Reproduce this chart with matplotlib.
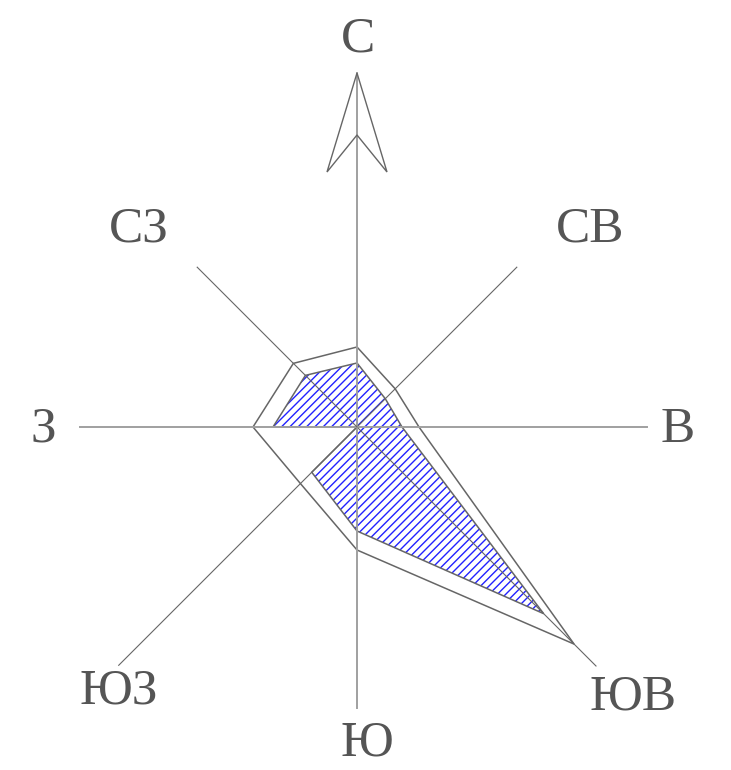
import numpy as np
import matplotlib.pyplot as plt
from matplotlib.patches import Polygon

# румбы (по часовой от севера)
directions = ['С', 'СВ', 'В', 'ЮВ', 'Ю', 'ЮЗ', 'З', 'СЗ']
# повторяемость ветра, внешний контур и внутренний (заштрихованный)
outer_vals = [80, 54, 62, 307, 123, 80, 104, 90]
inner_vals = [64, 40, 45, 264, 104, 64, 84, 73]

# длины осей и позиции подписей (оформление)
axis_len = [354, 226, 290, 338, 281, 337, 277, 226]
label_pos = [(1, 376), (233, 185), (321, -15), (276, -282),
             (10, -328), (-238, -276), (-314, -15), (-218, 185)]

ang = np.deg2rad(90 - 45 * np.arange(8))
ux, uy = np.cos(ang), np.sin(ang)

fig = plt.figure(figsize=(7.31, 7.70), dpi=100)
ax = fig.add_axes([0, 0, 1, 1])
ax.set_xlim(-357, 374)
ax.set_ylim(-343, 427)
ax.set_aspect('equal')
ax.axis('off')

# внешний контур
ov = np.array(outer_vals)
ax.add_patch(Polygon(np.column_stack([ov * ux, ov * uy]), closed=True,
                     facecolor='white', edgecolor='#666666', lw=1.1, zorder=1))

# внутренний контур: от центра через З, СЗ, ... ЮЗ обратно в центр
order = [6, 7, 0, 1, 2, 3, 4, 5]
iv = np.array(inner_vals)
pts = [(0, 0)] + [(iv[k] * ux[k], iv[k] * uy[k]) for k in order]
ax.add_patch(Polygon(pts, closed=True, facecolor='none', edgecolor='#2222ff',
                     hatch='////', lw=0, zorder=2))
ax.add_patch(Polygon(pts, closed=True, facecolor='none', edgecolor='#666666',
                     lw=1.1, zorder=3))

# оси
for k in range(8):
    if k % 2 == 0:
        ax.plot([0, axis_len[k] * ux[k]], [0, axis_len[k] * uy[k]],
                color='#a0a0a0', lw=1.4, zorder=4)
    else:
        ax.plot([0, axis_len[k] * ux[k]], [0, axis_len[k] * uy[k]],
                color='#666666', lw=0.8, zorder=4)

# стрелка на север
arrow = [(0, 354), (30, 255), (0, 292), (-30, 255)]
ax.add_patch(Polygon(arrow, closed=True, facecolor='none',
                     edgecolor='#666666', lw=1.0, zorder=5))

for name, (x, y) in zip(directions, label_pos):
    ax.text(x, y, name, ha='center', va='baseline', fontsize=37,
            family='Liberation Serif', color='#555555')

fig.savefig('out.png', dpi=100)
